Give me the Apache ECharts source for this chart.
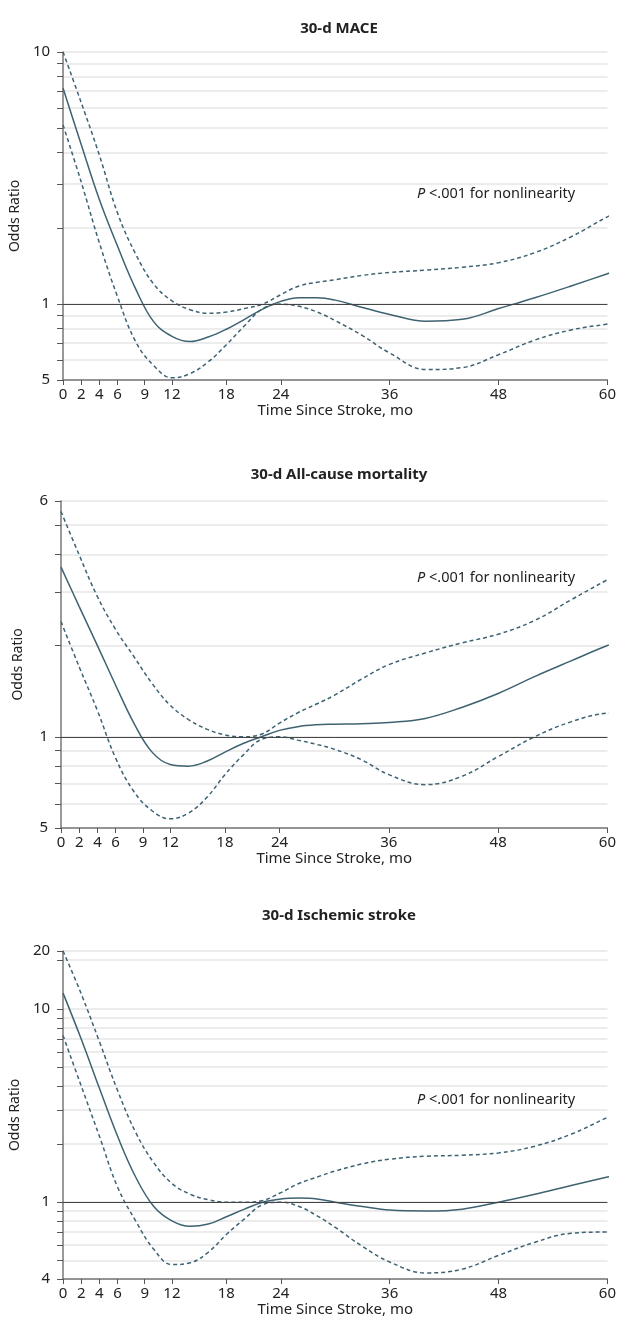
<!DOCTYPE html>
<html>
<head>
<meta charset="utf-8">
<script src="https://cdn.jsdelivr.net/npm/echarts@6/dist/echarts.min.js"></script>
<style>
  html, body { margin: 0; padding: 0; background: #fff; }
  #chart { width: 619px; height: 1332px; }
</style>
</head>
<body>
<div id="chart"></div>
<script>
// months since stroke (x values shared by all curves)
var months = [0, 2, 4, 6, 8, 10, 12, 14, 16, 18, 20, 22, 24, 26, 28, 30, 33, 36, 40, 44, 48, 52, 56, 60, 61];
var xTicks = [0, 2, 4, 6, 9, 12, 18, 24, 36, 48, 60];

// 30-d MACE
var maceOR    = [7.18, 4.3, 2.6, 1.7, 1.15, 0.85, 0.745, 0.71, 0.74, 0.795, 0.87, 0.955, 1.025, 1.06, 1.06, 1.037, 0.97, 0.91, 0.855, 0.87, 0.96, 1.06, 1.18, 1.32, 1.36];
var maceUpper = [10.0, 6.3, 3.9, 2.3, 1.58, 1.2, 1.03, 0.95, 0.92, 0.93, 0.96, 1.0, 1.09, 1.18, 1.22, 1.25, 1.30, 1.335, 1.364, 1.40, 1.46, 1.6, 1.85, 2.22, 2.30];
var maceLower = [5.13, 3.05, 1.75, 1.07, 0.71, 0.57, 0.51, 0.53, 0.59, 0.69, 0.82, 0.96, 1.0, 0.98, 0.93, 0.86, 0.75, 0.64, 0.55, 0.56, 0.63, 0.72, 0.79, 0.833, 0.84];

// 30-d All-cause mortality
var mortOR    = [3.63, 2.69, 2.0, 1.48, 1.11, 0.89, 0.81, 0.80, 0.83, 0.89, 0.95, 1.0, 1.05, 1.08, 1.095, 1.10, 1.105, 1.115, 1.15, 1.25, 1.39, 1.58, 1.78, 2.0, 2.04];
var mortUpper = [5.54, 3.98, 2.9, 2.26, 1.84, 1.5, 1.27, 1.14, 1.06, 1.015, 1.0, 1.02, 1.11, 1.2, 1.28, 1.37, 1.55, 1.73, 1.89, 2.04, 2.18, 2.42, 2.83, 3.30, 3.42];
var mortLower = [2.40, 1.7, 1.22, 0.85, 0.66, 0.57, 0.536, 0.56, 0.63, 0.75, 0.87, 0.98, 1.0, 0.975, 0.945, 0.91, 0.84, 0.75, 0.695, 0.74, 0.86, 1.0, 1.12, 1.197, 1.20];

// 30-d Ischemic stroke
var strokeOR    = [12.1, 7.0, 3.9, 2.2, 1.35, 0.95, 0.80, 0.75, 0.77, 0.84, 0.92, 1.0, 1.04, 1.05, 1.04, 1.0, 0.95, 0.91, 0.90, 0.92, 1.0, 1.1, 1.22, 1.35, 1.38];
var strokeUpper = [20.0, 12.0, 6.8, 3.8, 2.3, 1.6, 1.25, 1.1, 1.03, 1.0, 1.0, 1.02, 1.12, 1.25, 1.35, 1.45, 1.58, 1.67, 1.73, 1.75, 1.8, 1.95, 2.25, 2.75, 2.9];
var strokeLower = [7.3, 4.0, 2.2, 1.2, 0.8, 0.57, 0.475, 0.485, 0.55, 0.68, 0.82, 0.97, 1.0, 0.95, 0.85, 0.74, 0.59, 0.49, 0.43, 0.45, 0.53, 0.62, 0.69, 0.70, 0.69];

var titles = ['30-d MACE', '30-d All-cause mortality', '30-d Ischemic stroke'];
var yRanges = [[0.5, 10], [0.5, 6], [0.4, 20]];
var yGridValues = [
  [0.5, 0.6, 0.7, 0.8, 0.9, 1, 2, 3, 4, 5, 6, 7, 8, 9, 10],
  [0.5, 0.6, 0.7, 0.8, 0.9, 1, 2, 3, 4, 5, 6],
  [0.4, 0.5, 0.6, 0.7, 0.8, 0.9, 1, 2, 3, 4, 5, 6, 7, 8, 9, 10, 18, 20]
];
var yLabelValues = [[0.5, 1, 10], [0.5, 1, 6], [0.4, 1, 10, 20]];

var panels = [
  [maceOR, maceUpper, maceLower],
  [mortOR, mortUpper, mortLower],
  [strokeOR, strokeUpper, strokeLower]
];

var FONT = 'Noto Sans';
var LINE = '#3e6272';
var gridTops = [52, 501, 951];
var gridHeights = [328, 327, 328];
var titleTops = [16, 462, 903];
var noteTops = [186, 570, 1092];

var chart = echarts.init(document.getElementById('chart'), null, { renderer: 'canvas' });

function pairs(ys) {
  return months.map(function (m, i) { return [m, ys[i]]; });
}

var option = {
  animation: false,
  backgroundColor: '#fff',
  textStyle: { fontFamily: FONT },
  title: [],
  grid: [],
  xAxis: [],
  yAxis: [],
  series: [],
  graphic: []
};

panels.forEach(function (p, k) {
  option.title.push({
    text: titles[k],
    left: 334, top: titleTops[k],
    textAlign: 'center',
    textStyle: { fontFamily: FONT, fontSize: 15, fontWeight: 'bold', color: '#222' }
  });
  option.grid.push({ left: 61, right: 11, top: gridTops[k], height: gridHeights[k] });
  option.xAxis.push({
    type: 'value', gridIndex: k, min: 0, max: 60,
    name: 'Time Since Stroke, mo', nameLocation: 'middle', nameGap: 20,
    nameTextStyle: { fontFamily: FONT, fontSize: 15, color: '#222' },
    axisLine: { lineStyle: { color: '#777', width: 1.5 } },
    axisTick: { customValues: xTicks, length: 5, lineStyle: { color: '#555' } },
    axisLabel: { customValues: xTicks, margin: 7, fontFamily: FONT, fontSize: 15, color: '#222' },
    splitLine: { show: false }
  });
  option.yAxis.push({
    type: 'log', logBase: 10, gridIndex: k, min: yRanges[k][0], max: yRanges[k][1],
    name: 'Odds Ratio', nameLocation: 'middle', nameGap: 36, nameRotate: 90,
    nameTextStyle: { fontFamily: FONT, fontSize: 14, color: '#222' },
    axisLine: { show: true, lineStyle: { color: '#777', width: 1.5 } },
    axisTick: { show: true, customValues: yGridValues[k], length: 6, lineStyle: { color: '#555' } },
    axisLabel: {
      customValues: yLabelValues[k], margin: 13, fontFamily: FONT, fontSize: 15, color: '#222',
      formatter: function (v) { return v < 1 ? String(Math.round(v * 10)) : String(Math.round(v)); }
    },
    splitLine: { show: true, lineStyle: { color: '#e6e6e6', width: 1.5 } }
  });
  var styles = [
    { type: 'solid', data: p[0] },
    { type: [4, 3], data: p[1] },
    { type: [4, 3], data: p[2] }
  ];
  styles.forEach(function (s, j) {
    var ser = {
      type: 'line', xAxisIndex: k, yAxisIndex: k,
      data: pairs(s.data), smooth: 0.4, showSymbol: false, clip: false, silent: true,
      lineStyle: { color: LINE, width: 1.5, type: s.type }
    };
    if (j === 0) {
      ser.markLine = {
        silent: true, symbol: 'none', label: { show: false },
        lineStyle: { color: '#444', width: 1, type: 'solid' },
        data: [{ yAxis: 1 }]
      };
      ser.z = 3;
    }
    option.series.push(ser);
  });
  option.graphic.push({
    type: 'text', left: 417, top: noteTops[k],
    style: {
      text: '{i|P} <.001 for nonlinearity',
      font: '14.5px "Noto Sans"', fill: '#222',
      rich: { i: { fontStyle: 'italic', fontFamily: FONT, fontSize: 14.5, fill: '#222' } }
    }
  });
});

chart.setOption(option);
</script>
</body>
</html>
